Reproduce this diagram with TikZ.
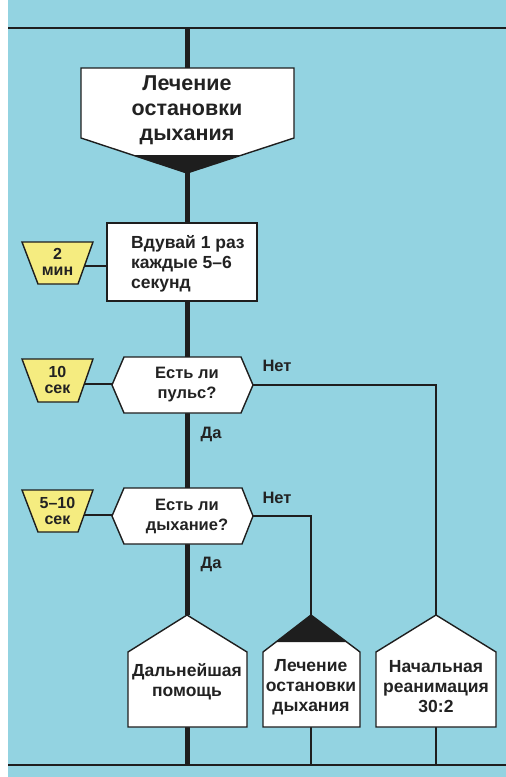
\documentclass[tikz,border=0pt]{standalone}
\usepackage{fontspec}
\setmainfont{Liberation Sans}
\definecolor{bgblue}{HTML}{93D3E1}
\definecolor{yel}{HTML}{F5EC80}
\definecolor{ink}{HTML}{1E1E1E}
\definecolor{txt}{HTML}{222222}
\begin{document}
\begin{tikzpicture}[x=1pt,y=-1pt,
  trunk/.style={line width=5pt,draw=ink},
  branch/.style={line width=1.8pt,draw=ink},
  shapebox/.style={draw=ink,line width=1.4pt,fill=white,line join=miter},
  yelbox/.style={draw=ink,line width=1.4pt,fill=yel},
  headtxt/.style={font=\fontsize{21.5}{25}\selectfont\bfseries,text=txt,align=center,inner sep=0pt},
  bodytxt/.style={font=\fontsize{16.5}{20}\selectfont\bfseries,text=txt,inner sep=0pt},
  bigtxt/.style={font=\fontsize{17.5}{20}\selectfont\bfseries,text=txt,inner sep=0pt},
  timetxt/.style={font=\fontsize{16}{16.5}\selectfont\bfseries,text=txt,align=center,inner sep=0pt},
  labtxt/.style={font=\fontsize{16.5}{20}\selectfont\bfseries,text=txt,inner sep=0pt}
]
\useasboundingbox (0,0) rectangle (506,777);
\fill[bgblue] (8,0) rectangle (506,777);

% key coordinates
\coordinate (topL) at (8,28);
\coordinate (topR) at (506,28);
\coordinate (topJ) at (187,28);
\coordinate (botL) at (8,765);
\coordinate (botR) at (506,765);
\coordinate (botA) at (187,765);
\coordinate (botB) at (311,765);
\coordinate (botC) at (436,765);

\coordinate (headT) at (187,68);
\coordinate (headB) at (187,173);
\coordinate (blowT) at (187,223);
\coordinate (blowB) at (187,301);
\coordinate (blowW) at (107,266);
\coordinate (q1T) at (187,357);
\coordinate (q1B) at (187,413);
\coordinate (q1W) at (112,384);
\coordinate (q1E) at (253,385);
\coordinate (q2T) at (187,488);
\coordinate (q2B) at (187,544);
\coordinate (q2W) at (112,515);
\coordinate (q2E) at (253,516);
\coordinate (t1E) at (84,266);
\coordinate (t2E) at (84,384);
\coordinate (t3E) at (84,515);
\coordinate (aT) at (187,615);
\coordinate (aB) at (187,727);
\coordinate (bT) at (311,615);
\coordinate (bB) at (311,727);
\coordinate (cT) at (436,615);
\coordinate (cB) at (436,727);
\coordinate (n1) at (436,385);
\coordinate (n2) at (311,516);

% horizontal rails
\draw[branch] (topL) -- (topR);
\draw[branch] (botL) -- (botR);

% trunk
\draw[trunk] (topJ) -- (headT);
\draw[trunk] (headB) -- (blowT);
\draw[trunk] (blowB) -- (q1T);
\draw[trunk] (q1B) -- (q2T);
\draw[trunk] (q2B) -- (aT);
\draw[trunk] (aB) -- (botA);

% branches
\draw[branch] (q1E) -- (n1) -- (cT);
\draw[branch] (q2E) -- (n2) -- (bT);
\draw[branch] (bB) -- (botB);
\draw[branch] (cB) -- (botC);
\draw[branch] (t1E) -- (blowW);
\draw[branch] (t2E) -- (q1W);
\draw[branch] (t3E) -- (q2W);

% heading shape
\fill[white] (81,68) -- (294,68) -- (294,138) -- (187,173) -- (81,138) -- cycle;
\fill[ink] (132.5,155) -- (242,155) -- (187,173) -- cycle;
\draw[draw=ink,line width=1.4pt] (81,68) -- (294,68) -- (294,138) -- (187,173) -- (81,138) -- cycle;
\node[headtxt] (head) at (187,110) {Лечение\\остановки\\дыхания};

% ventilation box
\draw[shapebox] (107,223) rectangle (257,301);
\node[bigtxt,anchor=west,align=left] (blow) at (131,264) {Вдувай 1 раз\\каждые 5–6\\секунд};

% decision 1
\draw[shapebox] (112,385) -- (124,357) -- (241,357) -- (253,385) -- (241,413) -- (124,413) -- cycle;
\node[bodytxt,align=center] (q1) at (187,385) {Есть ли\\пульс?};

% decision 2
\draw[shapebox] (112,516) -- (124,488) -- (242,488) -- (253,516) -- (242,544) -- (124,544) -- cycle;
\node[bodytxt,align=center] (q2) at (187,516) {Есть ли\\дыхание?};

% time boxes
\draw[yelbox] (22,242) -- (93,242) -- (78,284) -- (38,284) -- cycle;
\node[timetxt] (t1) at (57.5,262) {2\\мин};
\draw[yelbox] (22,359) -- (93,359) -- (78,402) -- (38,402) -- cycle;
\node[timetxt] (t2) at (57.5,380) {10\\сек};
\draw[yelbox] (22,490) -- (93,490) -- (78,532) -- (38,532) -- cycle;
\node[timetxt] (t3) at (57.5,511) {5–10\\сек};

% labels
\node[labtxt] (no1) at (277,366) {Нет};
\node[labtxt] (yes1) at (211,434) {Да};
\node[labtxt] (no2) at (277,498) {Нет};
\node[labtxt] (yes2) at (211,564) {Да};

% outcome A
\draw[shapebox] (128,727) -- (128,652) -- (187,615) -- (247,652) -- (247,727) -- cycle;
\node[bigtxt,align=center] (outA) at (187,682) {Дальнейшая\\помощь};

% outcome B
\fill[white] (263,727) -- (263,652) -- (311,615) -- (360,652) -- (360,727) -- cycle;
\fill[ink] (276,642) -- (347,642) -- (311,615) -- cycle;
\draw[draw=ink,line width=1.4pt] (263,727) -- (263,652) -- (311,615) -- (360,652) -- (360,727) -- cycle;
\node[bigtxt,align=center] (outB) at (311,687) {Лечение\\остановки\\дыхания};

% outcome C
\draw[shapebox] (376,727) -- (376,652) -- (436,615) -- (496,652) -- (496,727) -- cycle;
\node[bigtxt,align=center] (outC) at (436,687) {Начальная\\реанимация\\30:2};
\end{tikzpicture}
\end{document}
